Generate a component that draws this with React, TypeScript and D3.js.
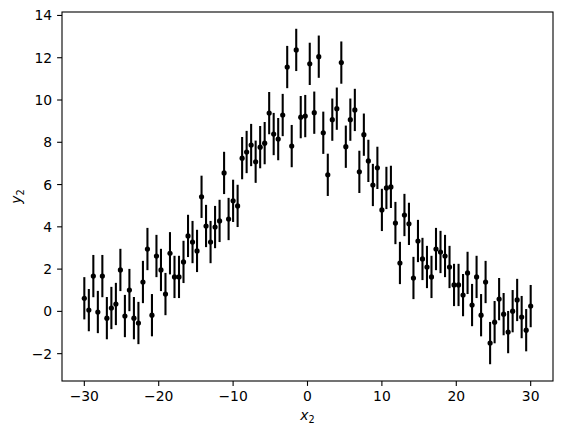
import React from "react";
import * as d3 from "d3";

const N = 100;
const xValues: number[] = Array.from({ length: N }, (_, i) => -30 + (i * 60) / (N - 1));
const yValues: number[] = [
  0.62, 0.06, 1.67, -0.03, 1.67, -0.32, 0.16, 0.35, 1.96, -0.22,
  1.01, -0.32, -0.55, 1.39, 2.95, -0.18, 2.62, 1.96, 0.82, 2.75,
  1.63, 1.63, 2.34, 3.57, 3.28, 2.86, 5.42, 4.04, 3.28, 3.99,
  4.28, 6.55, 4.37, 5.23, 4.99, 7.25, 7.54, 7.87, 7.08, 7.77,
  7.96, 9.38, 8.39, 8.15, 9.29, 11.56, 7.82, 12.37, 9.19, 9.24,
  11.71, 9.4, 12.05, 8.45, 6.46, 9.07, 9.59, 11.77, 7.79, 9.07,
  9.53, 6.6, 8.36, 7.12, 5.98, 6.79, 4.8, 5.84, 5.89, 4.18,
  2.29, 4.56, 4.14, 1.58, 3.33, 2.48, 2.1, 1.63, 2.95, 2.81,
  2.62, 2.1, 1.25, 1.25, 0.77, 1.82, 0.3, 1.63, -0.18, 1.39,
  -1.5, -0.51, 0.58, -0.13, -0.98, 0.01, 0.54, -0.27, -0.89, 0.25,
];
const yErr = 1;
const xTicks = [-30, -20, -10, 0, 10, 20, 30];
const yTicks = [-2, 0, 2, 4, 6, 8, 10, 12, 14];

const W = 566;
const H = 435;
const left = 62;
const right = 553;
const top = 12;
const bottom = 381;
const FONT = "DejaVu Sans, sans-serif";
const FS = 13.9;

function fmt(v: number) {
  return v < 0 ? "\u2212" + Math.abs(v) : String(v);
}

export default function App() {
  const xmin = d3.min(xValues)!;
  const xmax = d3.max(xValues)!;
  const xr = xmax - xmin;
  const ymin = d3.min(yValues)! - yErr;
  const ymax = d3.max(yValues)! + yErr;
  const yr = ymax - ymin;
  const x = d3.scaleLinear().domain([xmin - 0.05 * xr, xmax + 0.05 * xr]).range([left, right]);
  const y = d3.scaleLinear().domain([ymin - 0.05 * yr, ymax + 0.05 * yr]).range([bottom, top]);

  return (
    <svg width={W} height={H} style={{ position: "absolute", left: 0, top: 0, background: "#fff" }}>
      <rect x={0} y={0} width={W} height={H} fill="#fff" />
      {xValues.map((xv, i) => (
        <line
          key={"e" + i}
          x1={x(xv)}
          x2={x(xv)}
          y1={y(yValues[i] - yErr)}
          y2={y(yValues[i] + yErr)}
          stroke="#000"
          strokeWidth={2.08}
        />
      ))}
      {xValues.map((xv, i) => (
        <circle key={"p" + i} cx={x(xv)} cy={y(yValues[i])} r={2.6} fill="#000" />
      ))}
      <rect x={left} y={top} width={right - left} height={bottom - top} fill="none" stroke="#000" strokeWidth={1.1} />
      {xTicks.map((t) => (
        <g key={"xt" + t}>
          <line x1={x(t)} x2={x(t)} y1={bottom} y2={bottom + 4.9} stroke="#000" strokeWidth={1.1} />
          <text x={x(t)} y={bottom + 9.8 + FS * 0.76} textAnchor="middle" fontFamily={FONT} fontSize={FS} fill="#000">
            {fmt(t)}
          </text>
        </g>
      ))}
      {yTicks.map((t) => (
        <g key={"yt" + t}>
          <line x1={left - 4.9} x2={left} y1={y(t)} y2={y(t)} stroke="#000" strokeWidth={1.1} />
          <text x={left - 9.8} y={y(t)} dy="0.36em" textAnchor="end" fontFamily={FONT} fontSize={FS} fill="#000">
            {fmt(t)}
          </text>
        </g>
      ))}
      <text x={(left + right) / 2} y={420} textAnchor="middle" fontFamily={FONT} fontSize={FS} fill="#000">
        <tspan fontStyle="italic">x</tspan>
        <tspan fontSize={FS * 0.7} dy={3}>2</tspan>
      </text>
      <text
        transform={`translate(21,${(top + bottom) / 2}) rotate(-90)`}
        textAnchor="middle"
        fontFamily={FONT}
        fontSize={FS}
        fill="#000"
      >
        <tspan fontStyle="italic">y</tspan>
        <tspan fontSize={FS * 0.7} dy={3}>2</tspan>
      </text>
    </svg>
  );
}
